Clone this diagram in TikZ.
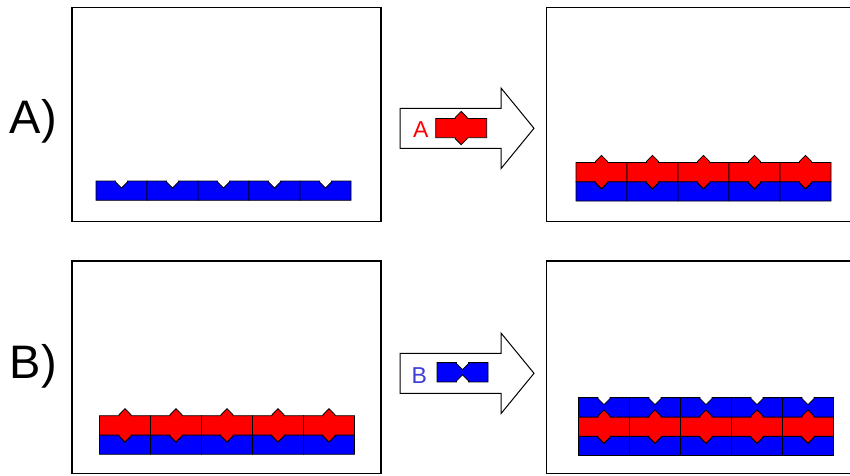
\documentclass[tikz,border=0pt]{standalone}
\usepackage{fontspec}
\setmainfont{Liberation Sans}
\definecolor{pblue}{RGB}{0,0,255}
\definecolor{pred}{RGB}{255,0,0}
\definecolor{lblue}{RGB}{60,60,215}
\tikzset{
  piece/.style={draw=black, line width=0.8pt, line join=miter},
  frame/.style={draw=black, line width=1.2pt},
  blockarrow/.style={draw=black, line width=1pt, fill=white, line join=miter},
  biglabel/.style={font=\fontsize{47}{47}\selectfont, anchor=base west, inner sep=0pt},
  arrowlabel/.style={font=\fontsize{23}{23}\selectfont, anchor=base west, inner sep=0pt},
  pics/bluebase/.style={code={
    \path[piece,fill=pblue] (0,0) -- (19.5,0) -- (19.5,1) -- (25.5,7) -- (31.5,1) -- (31.5,0)
      -- (51,0) -- (51,19.3) -- (0,19.3) -- cycle;}},
  pics/redpiece/.style={code={
    \path[piece,fill=pred] (0,0) -- (19.5,0) -- (19.5,-1) -- (25.5,-7) -- (31.5,-1) -- (31.5,0)
      -- (51,0) -- (51,19.3) -- (31.5,19.3) -- (31.5,20.3) -- (25.5,26.3) -- (19.5,20.3)
      -- (19.5,19.3) -- (0,19.3) -- cycle;}},
  pics/bluetwo/.style={code={
    \path[piece,fill=pblue] (0,0) -- (19.5,0) -- (19.5,1) -- (25.5,7) -- (31.5,1) -- (31.5,0)
      -- (51,0) -- (51,19.3) -- (31.5,19.3) -- (31.5,18.3) -- (25.5,12.3) -- (19.5,18.3)
      -- (19.5,19.3) -- (0,19.3) -- cycle;}},
}
\begin{document}
\begin{tikzpicture}[x=1pt,y=-1pt]
\useasboundingbox (0,0) rectangle (850,475);
\clip (0,0) rectangle (850,475);

% frames
\draw[frame] (72,7.5) rectangle (381,221.5);
\draw[frame] (546.5,7.5) rectangle (870,221.5);
\draw[frame] (72,261) rectangle (381,473.5);
\draw[frame] (546.5,261) rectangle (870,473.5);

% row labels
\node[biglabel] (la) at (9.5,133) {A)};
\node[biglabel] (lb) at (9.5,378) {B)};

% top-left: blue base row
\foreach \i in {0,...,4} {
  \pic at ({96+51*\i},181) {bluebase};
}

% top-right: blue base + red layer
\foreach \i in {0,...,4} {
  \pic at ({576+51*\i},181.7) {bluebase};
}
\foreach \i in {0,...,4} {
  \pic at ({576+51*\i},162.4) {redpiece};
}

% bottom-left: blue base + red layer
\foreach \i in {0,...,4} {
  \pic at ({99.5+51*\i},435) {bluebase};
}
\foreach \i in {0,...,4} {
  \pic at ({99.5+51*\i},415.7) {redpiece};
}

% bottom-right: blue base + red + blue B layer
\foreach \i in {0,...,4} {
  \pic at ({578.5+51*\i},436.2) {bluebase};
}
\foreach \i in {0,...,4} {
  \pic at ({578.5+51*\i},416.9) {redpiece};
}
\foreach \i in {0,...,4} {
  \pic at ({578.5+51*\i},397.6) {bluetwo};
}

% arrow A
\draw[blockarrow] (400,108.3) -- (501,108.3) -- (501,88) -- (534,128.3) -- (501,168.6)
  -- (501,148.3) -- (400,148.3) -- cycle;
\node[arrowlabel, text=pred] (ta) at (413,137.7) {A};
\pic at (435.7,118.4) {redpiece};

% arrow B
\draw[blockarrow] (400,353.3) -- (501,353.3) -- (501,333) -- (534,373.3) -- (501,413.6)
  -- (501,393.3) -- (400,393.3) -- cycle;
\node[arrowlabel, text=lblue] (tb) at (411.5,383) {B};
\pic at (437,362.6) {bluetwo};
\end{tikzpicture}
\end{document}
